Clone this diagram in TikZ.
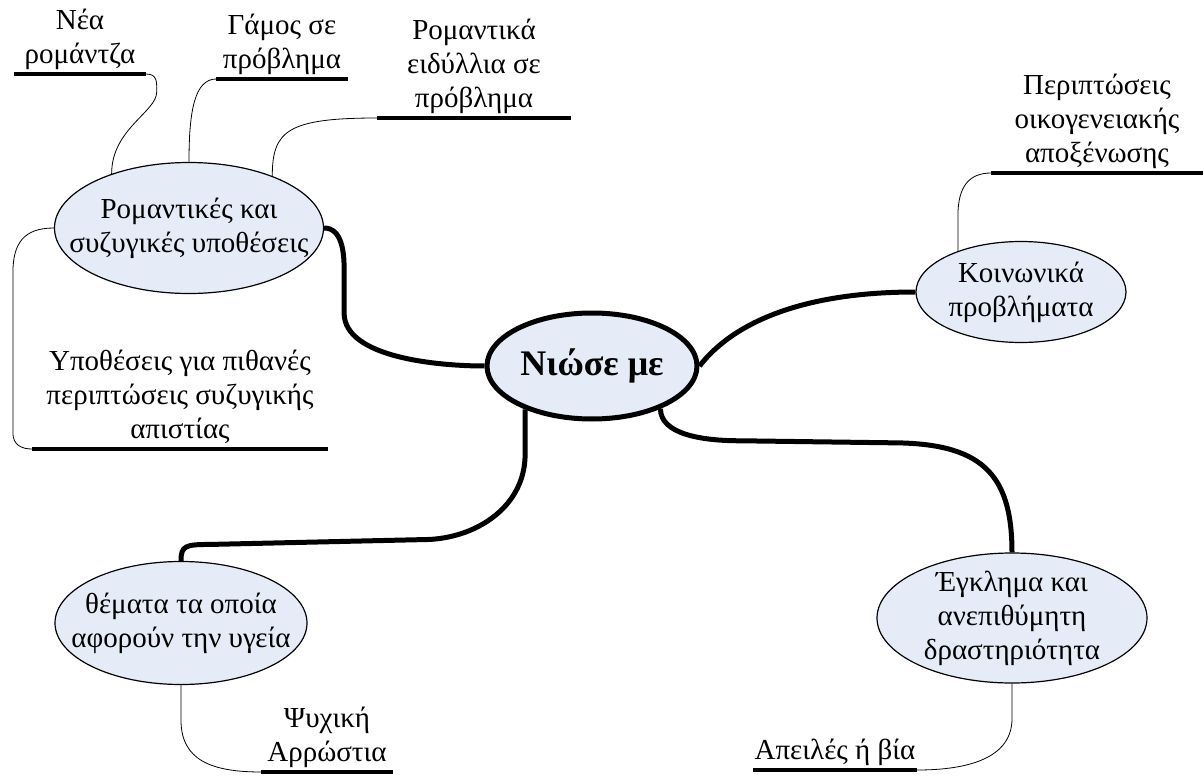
\documentclass[tikz,border=0pt]{standalone}
\usepackage{fontspec}
\setmainfont{Liberation Serif}
\usetikzlibrary{shapes.geometric}
\definecolor{topicfill}{HTML}{E5ECF7}

\begin{document}
\begin{tikzpicture}[x=1pt,y=-1pt,
  topic/.style={ellipse,draw,fill=topicfill,line width=1.2pt,inner xsep=-30pt,inner ysep=-15pt,align=center,font=\fontsize{29}{34}\selectfont},
  hub/.style={topic,line width=5pt,font=\fontsize{36}{40}\selectfont\bfseries},
  leaf/.style={anchor=south,align=center,inner sep=0pt,execute at end node=\strut,font=\fontsize{29}{34}\selectfont},
  uline/.style={line width=3.5pt},
  trunk/.style={line width=5pt},
  twig/.style={line width=0.8pt}]
\useasboundingbox (0,0) rectangle (1203,776);

\node[hub,minimum width=210pt,minimum height=106pt] (hub) at (592,366) {Νιώσε με};

\node[topic,minimum width=269pt,minimum height=131pt] (rom) at (189,228) {Ρομαντικές και\\συζυγικές υποθέσεις};
\node[topic,minimum width=210pt,minimum height=101pt] (koin) at (1021,292) {Κοινωνικά\\προβλήματα};
\node[topic,minimum width=252pt,minimum height=123pt] (them) at (181,623) {θέματα τα οποία\\αφορούν την υγεία};
\node[topic,minimum width=270pt,minimum height=130pt] (egkl) at (1012,618) {Έγκλημα και\\ανεπιθύμητη\\δραστηριότητα};

\node[leaf,minimum width=131pt] (nea) at (80,74) {Νέα\\ρομάντζα};
\node[leaf,minimum width=131pt] (gamos) at (282,79) {Γάμος σε\\πρόβλημα};
\node[leaf,minimum width=193pt] (eid) at (474,118) {Ρομαντικά\\ειδύλλια σε\\πρόβλημα};
\node[leaf,minimum width=296pt] (apis) at (180,449) {Υποθέσεις για πιθανές\\περιπτώσεις συζυγικής\\απιστίας};
\node[leaf,minimum width=211pt] (oik) at (1097,173) {Περιπτώσεις\\οικογενειακής\\αποξένωσης};
\node[leaf,minimum width=131pt] (psy) at (327,772) {Ψυχική\\Αρρώστια};
\node[leaf,minimum width=164pt] (apei) at (835,770) {Απειλές ή βία};

\foreach \n in {nea,gamos,eid,apis,oik,psy,apei}
\draw[uline] (\n.south west) -- (\n.south east);

\draw[trunk] (rom.east) .. controls +(18,0) and +(0,-15) .. ++(20,40) -- ++(0,45) .. controls +(0,45) and +(-45,0) .. (hub.west);
\draw[trunk] (hub.east) .. controls +(35,-45) and +(-110,0) .. (koin.west);
\draw[trunk] (hub.213) -- ++(0,45) .. controls +(0,50) and +(50,-3) .. ++(-95,85) -- ++(-220,5) .. controls +(-25,0) and +(0,-15) .. (them.north);
\draw[trunk] (hub.-32) .. controls +(0,25) and +(-40,0) .. ++(80,32) -- ++(150,2) .. controls +(90,0) and +(0,-80) .. (egkl.north);

\draw[twig] (nea.south east) .. controls +(12,0) and +(0,-10) .. ++(11,18) .. controls +(0,20) and +(0,-45) .. (rom.145);
\draw[twig] (gamos.south west) .. controls +(-22,0) and +(0,-50) .. (rom.north);
\draw[twig] (eid.south west) .. controls +(-90,0) and +(0,-45) .. (rom.32);
\draw[twig] (rom.west) .. controls +(-30,0) and +(0,-30) .. ++(-41,45) -- ++(0,160) .. controls +(0,12) and +(-10,0) .. (apis.south west);
\draw[twig] (koin.147) -- ++(0,-35) .. controls +(0,-30) and +(-22,0) .. (oik.south west);
\draw[twig] (them.south) -- ++(0,35) .. controls +(0,40) and +(-50,0) .. (psy.south west);
\draw[twig] (egkl.south) -- ++(0,35) .. controls +(0,40) and +(50,0) .. (apei.south east);
\end{tikzpicture}
\end{document}
